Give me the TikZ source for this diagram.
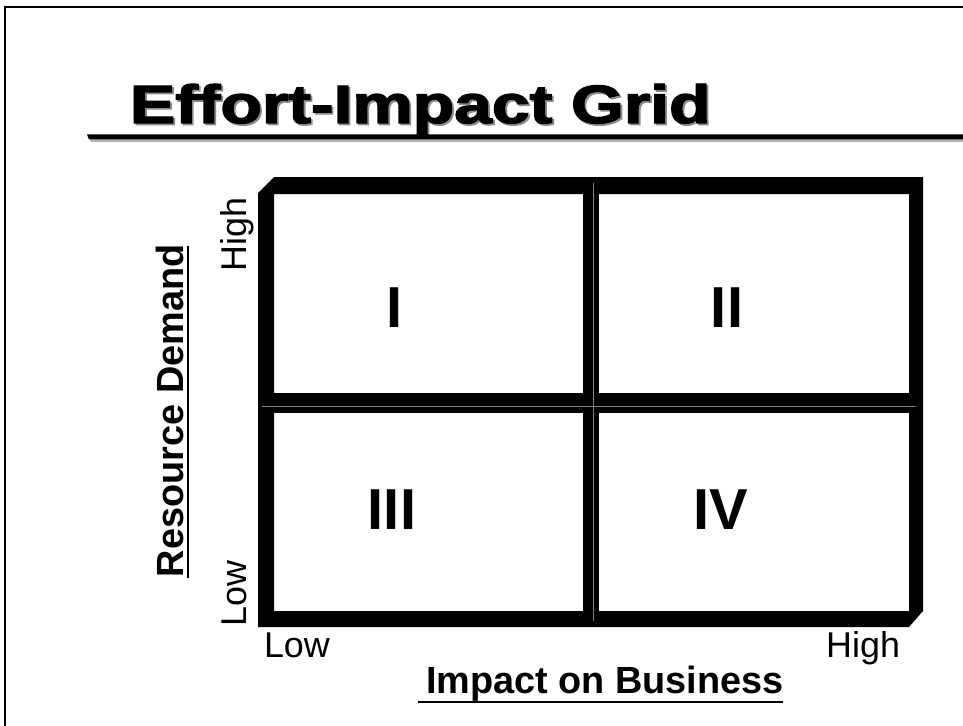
\documentclass[tikz,border=0pt]{standalone}
\usepackage{fontspec}
\usepackage{graphicx}
\setmainfont{Liberation Sans}
\newfontfamily\heavyfont[FakeBold=2.4]{Liberation Sans Bold}
\newcommand{\titletext}{\scalebox{1.31}[1.04]{\fontsize{52}{56}\selectfont\heavyfont Effort-Impact Grid}}
\begin{document}
\begin{tikzpicture}[x=1bp,y=-1bp,
  txt/.style={inner sep=0pt, outer sep=0pt},
  tick/.style={txt, font=\fontsize{36}{40}\selectfont},
  axis/.style={txt, font=\fontsize{38}{42}\selectfont\bfseries},
  quad/.style={txt, anchor=base, font=\fontsize{58}{62}\selectfont\bfseries},
  seam/.style={draw=black!50, line width=0.5bp}]
\useasboundingbox (0,0) rectangle (963,726);
\fill[white] (0,0) rectangle (963,726);

% page border (left and top)
\draw[line width=1.6bp] (5,726) -- (5,7) -- (963,7);

% title with drop shadow and rule
\node[txt, anchor=base west] (title) at (130,123)
  {\makebox[0pt][l]{\hspace{1.8bp}\raisebox{-1.8bp}{\color{black!45}\titletext}}\titletext};
\fill[gray!60] (89,138) -- (963,138) -- (963,142) -- (91,142) -- cycle;
\fill[black] (87,134.5) -- (963,134.5) -- (963,139.5) -- (89,139.5) -- cycle;

% grid frame (bevelled box)
\fill[black, even odd rule]
  (258,193) -- (274,177) -- (923,177) -- (923,611) -- (909,627) -- (258,627) -- cycle
  (274,194) rectangle (909,611);
% dividers
\fill[black] (583,194) rectangle (599,611);
\fill[black] (274,393) rectangle (909,413);
\draw[seam] (593,183) -- (593,621);
\draw[seam] (262,406) -- (916,406);

% quadrant numerals
\node[quad] (q1) at (395,327) {I};
\node[quad] (q2) at (727,327) {II};
\node[quad] (q3) at (392,529) {III};
\node[quad] (q4) at (721,529) {IV};

% vertical axis
\node[tick, rotate=90, anchor=base west] (yhigh) at (246,271) {High};
\node[tick, rotate=90, anchor=base west] (ylow) at (246,626) {Low};
\node[axis, rotate=90, anchor=base west] (ytitle) at (183,577) {Resource Demand};
\draw[line width=2.5bp] (188,578) -- (188,246);

% horizontal axis
\node[tick, anchor=base west] (xlow) at (264,657) {Low};
\node[tick, anchor=base east] (xhigh) at (900,657) {High};
\node[axis, anchor=base west] (xtitle) at (426,693) {Impact on Business};
\draw[line width=2.8bp] (418,702) -- (783,702);
\end{tikzpicture}
\end{document}
